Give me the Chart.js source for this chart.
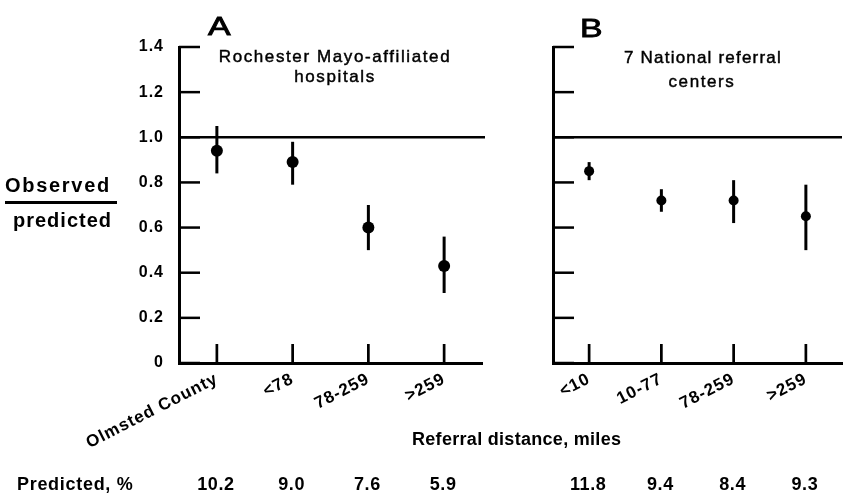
<!DOCTYPE html>
<html><head><meta charset="utf-8">
<script src="https://cdn.jsdelivr.net/npm/chart.js@4"></script>
<style>
html,body{margin:0;padding:0;background:#fff;}
body{width:847px;height:493px;position:relative;overflow:hidden;font-family:"Liberation Sans",Arial,sans-serif;color:#000;}
.t{position:absolute;white-space:nowrap;line-height:1;}
.w{-webkit-text-stroke:0.45px #000;}
#cA{position:absolute;left:0;top:0;}
#cB{position:absolute;left:500px;top:0;}
</style></head><body>
<canvas id="cA" width="500" height="493"></canvas>
<canvas id="cB" width="347" height="493"></canvas>

<div class="t w" style="left:208px;top:13px;font-size:26px;transform:scaleX(1.3);transform-origin:left;-webkit-text-stroke:0.9px #000;">A</div>
<div class="t w" style="left:335px;top:47.6px;font-size:17px;letter-spacing:1.6px;transform:translateX(-50%);">Rochester Mayo-affiliated</div>
<div class="t w" style="left:335px;top:67.6px;font-size:17px;letter-spacing:1.6px;transform:translateX(-50%);">hospitals</div>
<div class="t w" style="left:580px;top:15px;font-size:26px;transform:scaleX(1.3);transform-origin:left;-webkit-text-stroke:0.9px #000;">B</div>
<div class="t w" style="left:703px;top:48.6px;font-size:17px;letter-spacing:1.2px;transform:translateX(-50%);">7 National referral</div>
<div class="t w" style="left:702px;top:72.6px;font-size:17px;letter-spacing:1.6px;transform:translateX(-50%);">centers</div>

<div class="t" style="left:5px;top:175px;font-size:20px;font-weight:bold;letter-spacing:1.7px;">Observed</div>
<div style="position:absolute;left:5px;top:201px;width:112px;height:2.5px;background:#000;"></div>
<div class="t" style="left:13px;top:210px;font-size:20px;font-weight:bold;letter-spacing:1px;">predicted</div>

<div class="t" style="left:412px;top:430px;font-size:18px;font-weight:bold;letter-spacing:0.3px;">Referral distance, miles</div>
<div class="t" style="left:17px;top:475px;font-size:18px;font-weight:bold;letter-spacing:0.7px;">Predicted, %</div>

<script>
// ---- data ----
const catsA = ['Olmsted County', '<78', '78-259', '>259'];
const obsA  = [0.94, 0.89, 0.60, 0.43];
const loA   = [0.84, 0.79, 0.50, 0.31];
const hiA   = [1.05, 0.98, 0.70, 0.56];
const predA = ['10.2', '9.0', '7.6', '5.9'];

const catsB = ['<10', '10-77', '78-259', '>259'];
const obsB  = [0.85, 0.72, 0.72, 0.65];
const loB   = [0.81, 0.67, 0.62, 0.50];
const hiB   = [0.89, 0.77, 0.81, 0.79];
const predB = ['11.8', '9.4', '8.4', '9.3'];

const yMin = 0, yMax = 1.4, yStep = 0.2;
const refValue = 1.0;

Chart.defaults.font.family = '"Liberation Sans", Arial, sans-serif';
Chart.defaults.color = '#000';

function makePlugin(lo, hi, pred, refExtend) {
  return {
    id: 'custom',
    beforeDraw(chart) {
      chart.ctx.letterSpacing = '1px';
    },
    beforeDatasetsDraw(chart) {
      const ctx = chart.ctx, xs = chart.scales.x, ys = chart.scales.y, a = chart.chartArea;
      ctx.save();
      ctx.strokeStyle = '#000';
      // reference line
      ctx.lineWidth = 2.5;
      const yr = ys.getPixelForValue(refValue);
      ctx.beginPath(); ctx.moveTo(a.left, yr); ctx.lineTo(a.right + refExtend, yr); ctx.stroke();
      // inward y ticks
      ctx.lineWidth = 2.5;
      ys.ticks.forEach(t => {
        const y = ys.getPixelForValue(t.value);
        ctx.beginPath(); ctx.moveTo(a.left, y); ctx.lineTo(a.left + 21, y); ctx.stroke();
      });
      // inward x ticks
      ctx.lineWidth = 2.7;
      for (let i = 0; i < xs.ticks.length; i++) {
        const x = xs.getPixelForValue(i);
        ctx.beginPath(); ctx.moveTo(x, a.bottom); ctx.lineTo(x, a.bottom - 19); ctx.stroke();
      }
      // error bars
      ctx.lineWidth = 3;
      const meta = chart.getDatasetMeta(0);
      meta.data.forEach((pt, i) => {
        ctx.beginPath();
        ctx.moveTo(pt.x, ys.getPixelForValue(lo[i]));
        ctx.lineTo(pt.x, ys.getPixelForValue(hi[i]));
        ctx.stroke();
      });
      ctx.restore();
    },
    afterDraw(chart) {
      const ctx = chart.ctx, xs = chart.scales.x;
      ctx.save();
      ctx.letterSpacing = '0.5px';
      ctx.font = 'bold 18px "Liberation Sans", Arial, sans-serif';
      ctx.fillStyle = '#000';
      ctx.textAlign = 'center';
      ctx.textBaseline = 'alphabetic';
      pred.forEach((p, i) => ctx.fillText(p, xs.getPixelForValue(i) - 1, 490));
      ctx.restore();
    }
  };
}

function makeChart(id, cats, obs, lo, hi, pred, yWidth, padRight, showY, radius, refExtend) {
  return new Chart(document.getElementById(id), {
    type: 'line',
    data: {
      labels: cats,
      datasets: [{
        data: obs,
        showLine: false,
        pointRadius: radius,
        pointBackgroundColor: '#000',
        pointBorderColor: '#000',
        pointBorderWidth: 0
      }]
    },
    options: {
      responsive: false,
      animation: false,
      devicePixelRatio: 1,
      events: [],
      layout: { padding: { top: 47, right: padRight, bottom: 0, left: 0 } },
      plugins: { legend: { display: false }, tooltip: { enabled: false } },
      scales: {
        x: {
          type: 'category',
          offset: true,
          grid: { display: false, drawTicks: false },
          border: { display: true, color: '#000', width: 3 },
          ticks: {
            autoSkip: false, minRotation: 27, maxRotation: 27, padding: 6,
            color: '#000', font: { size: 17, weight: 'bold' }
          },
          afterFit(s) { s.height = 130; }
        },
        y: {
          min: yMin, max: yMax,
          grid: { display: false, drawTicks: false },
          border: { display: true, color: '#000', width: 3 },
          ticks: {
            display: showY, stepSize: yStep, padding: 15,
            color: '#000', font: { size: 16, weight: 'bold' },
            callback: v => (Math.abs(v) < 1e-9 ? '0' : Number(v).toFixed(1))
          },
          afterFit(s) { s.width = yWidth; }
        }
      }
    },
    plugins: [makePlugin(lo, hi, pred, refExtend)]
  });
}

makeChart('cA', catsA, obsA, loA, hiA, predA, 179, 18, true, 6, 3);
makeChart('cB', catsB, obsB, loB, hiB, predB, 53, 0, false, 5, 0);
</script>
</body></html>
